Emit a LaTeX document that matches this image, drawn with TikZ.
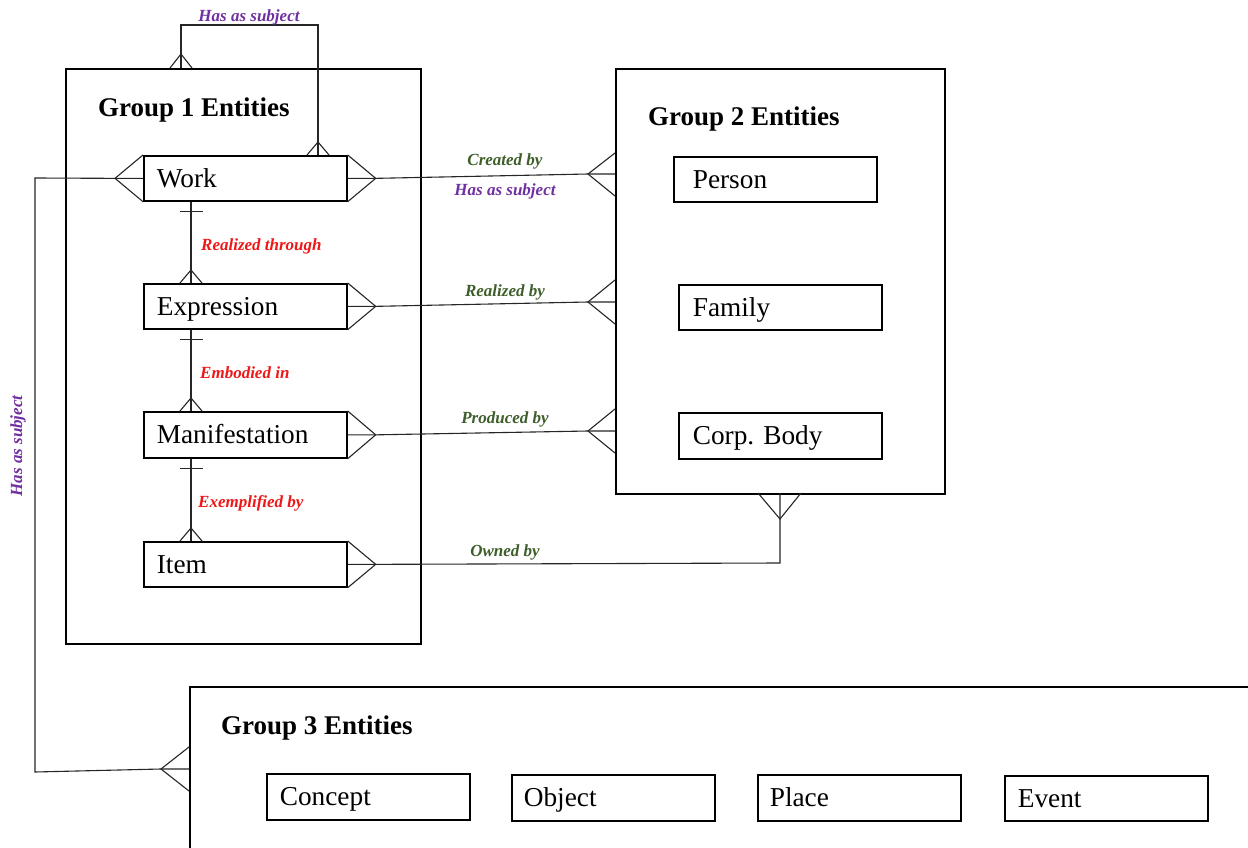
\documentclass[tikz,border=0pt]{standalone}
\usepackage{fontspec}
\setmainfont{Liberation Serif}
\usetikzlibrary{calc}
\definecolor{relred}{RGB}{238,24,24}
\definecolor{relgreen}{RGB}{62,94,42}
\definecolor{relpurple}{RGB}{112,48,160}
\begin{document}
\begin{tikzpicture}[x=1pt,y=-1pt,
  ent/.style={draw, line width=1.7pt, rectangle, anchor=north west, minimum height=45,
    inner xsep=13, inner ysep=0, text width=177, align=left, text height=17.5, text depth=0,
    font=\fontsize{27.3}{31}\selectfont},
  grp/.style={draw, line width=1.8pt, rectangle, anchor=north west, inner sep=0},
  gtitle/.style={font=\bfseries\fontsize{27}{31}\selectfont, anchor=base west, inner sep=0},
  lab/.style={font=\bfseries\itshape\fontsize{17}{19}\selectfont, inner sep=0},
  conn/.style={line width=1.1pt, draw=black!85},
  tick/.style={line width=1.1pt, draw=black!85}]
\useasboundingbox (0,0) rectangle (1248,848);
\fill[white] (0,0) rectangle (1248,848);

% group boxes
\node[grp, minimum width=355, minimum height=575] (g1) at (65,68) {};
\node[grp, minimum width=329, minimum height=425] (g2) at (615,68) {};
\begin{scope}
\clip (0,0) rectangle (1248,848);
\node[grp, minimum width=1100, minimum height=200] (g3) at (189,686) {};
\end{scope}

\node[gtitle] (t1) at (98,117) {Group 1 Entities};
\node[gtitle] (t2) at (648,126) {Group 2 Entities};
\node[gtitle] (t3) at (221,734) {Group 3 Entities};

% group 1 entities
\node[ent] (work) at (143,155) {Work};
\node[ent] (expr) at (143,283) {Expression};
\node[ent, minimum height=46] (manif) at (143,411) {Manifestation};
\node[ent] (item) at (143,541) {Item};

% group 2 entities
\node[ent, inner xsep=19, text width=165] (person) at (673,156) {Person};
\node[ent, inner xsep=14, text width=175] (family) at (678,284) {Family};
\node[ent, inner xsep=14, text width=175, minimum height=46] (corp) at (678,412) {Corp.\ Body};

% group 3 entities
\node[ent, inner xsep=13, text width=177, minimum height=46] (concept) at (266,773) {Concept};
\node[ent, inner xsep=12, text width=179, minimum height=46] (object) at (511,774) {Object};
\node[ent, inner xsep=12, text width=179, minimum height=46] (place) at (757,774) {Place};
\node[ent, inner xsep=13, text width=177, minimum height=45] (event) at (1004,775) {Event};

% ---- coordinates
\coordinate (wL) at ($(work.west)+(-28,0)$);
\coordinate (wR) at ($(work.east)+(28,0)$);
\coordinate (wTb) at ($(work.north west)+(175,0)$);
\coordinate (wT) at ($(wTb)+(0,-13)$);
\coordinate (eR) at ($(expr.east)+(28,0)$);
\coordinate (mR) at ($(manif.east)+(28,0)$);
\coordinate (iR) at ($(item.east)+(28,0)$);

% Work crow's feet
\draw[conn] (work.north west) -- (wL) -- (work.south west);
\draw[conn] (work.north east) -- (wR) -- (work.south east);
\draw[conn] ($(wTb)+(-11,0)$) -- (wT) -- ($(wTb)+(11,0)$);
\draw[conn] (expr.north east) -- (eR) -- (expr.south east);
\draw[conn] (manif.north east) -- (mR) -- (manif.south east);
\draw[conn] (item.north east) -- (iR) -- (item.south east);

% top loop: Work has as subject Work
\coordinate (g1Tb) at (181,68);
\coordinate (g1T) at (181,54);
\coordinate (loopA) at (318,25);
\coordinate (loopB) at (181,25);
\draw[conn] (wTb) -- (wT) -- (loopA) -- (loopB) -- (g1T) -- (g1Tb);
\draw[conn] (170,68) -- (g1T) -- (192,68);
\node[lab, text=relpurple] (lhas1) at (249,17) {Has as subject};

% vertical chain in group 1
\coordinate (wB) at ($(work.south west)+(48,0)$);
\coordinate (eT) at ($(expr.north west)+(48,0)$);
\coordinate (eB) at ($(expr.south west)+(48,0)$);
\coordinate (mT) at ($(manif.north west)+(48,0)$);
\coordinate (mB) at ($(manif.south west)+(48,0)$);
\coordinate (iT) at ($(item.north west)+(48,0)$);
\draw[conn] (wB) -- (eT);
\draw[conn] (eB) -- (mT);
\draw[conn] (mB) -- (iT);
\foreach \b in {wB,eB,mB}{
  \draw[tick] ($(\b)+(-11,10)$) -- ($(\b)+(12,10)$);
}
\foreach \t in {eT,mT,iT}{
  \draw[conn] ($(\t)+(-11,0)$) -- ($(\t)+(0,-13)$) -- ($(\t)+(11,0)$);
}
\node[lab, text=relred, anchor=west] (lrt) at (201,246) {Realized through};
\node[lab, text=relred, anchor=west] (lemb) at (200,373) {Embodied in};
\node[lab, text=relred, anchor=west] (lexe) at (198,503) {Exemplified by};

% connections to group 2
\coordinate (c1) at (588,174);  \coordinate (c1e) at (615,174);
\coordinate (c2) at (588,302);  \coordinate (c2e) at (615,302);
\coordinate (c3) at (588,431);  \coordinate (c3e) at (615,431);
\draw[conn] (work.east) -- (wR) -- (c1) -- (c1e);
\draw[conn] (615,153) -- (c1) -- (615,196);
\draw[conn] (expr.east) -- (eR) -- (c2) -- (c2e);
\draw[conn] (615,280) -- (c2) -- (615,324);
\draw[conn] (manif.east) -- (mR) -- (c3) -- (c3e);
\draw[conn] (615,409) -- (c3) -- (615,453);
\node[lab, text=relgreen] (lcre) at (505,161) {Created by};
\node[lab, text=relpurple] (lhas2) at (505,191) {Has as subject};
\node[lab, text=relgreen] (lreal) at (505,292) {Realized by};
\node[lab, text=relgreen] (lprod) at (505,419) {Produced by};

% owned by
\coordinate (oc) at (780,563);
\coordinate (oA) at (780,519);
\coordinate (oB) at (780,493);
\draw[conn] (item.east) -- (iR) -- (oc) -- (oA) -- (oB);
\draw[conn] (758,493) -- (oA) -- (801,493);
\node[lab, text=relgreen] (lown) at (505,552) {Owned by};

% has as subject to group 3
\coordinate (sA) at (35,178);
\coordinate (sB) at (35,772);
\coordinate (s3) at (161,769);
\coordinate (s3e) at (189,769);
\draw[conn] (work.west) -- (wL) -- (sA) -- (sB) -- (s3) -- (s3e);
\draw[conn] (189,747) -- (s3) -- (189,791);
\node[lab, text=relpurple, rotate=90] (lhas3) at (18,446) {Has as subject};
\end{tikzpicture}
\end{document}
